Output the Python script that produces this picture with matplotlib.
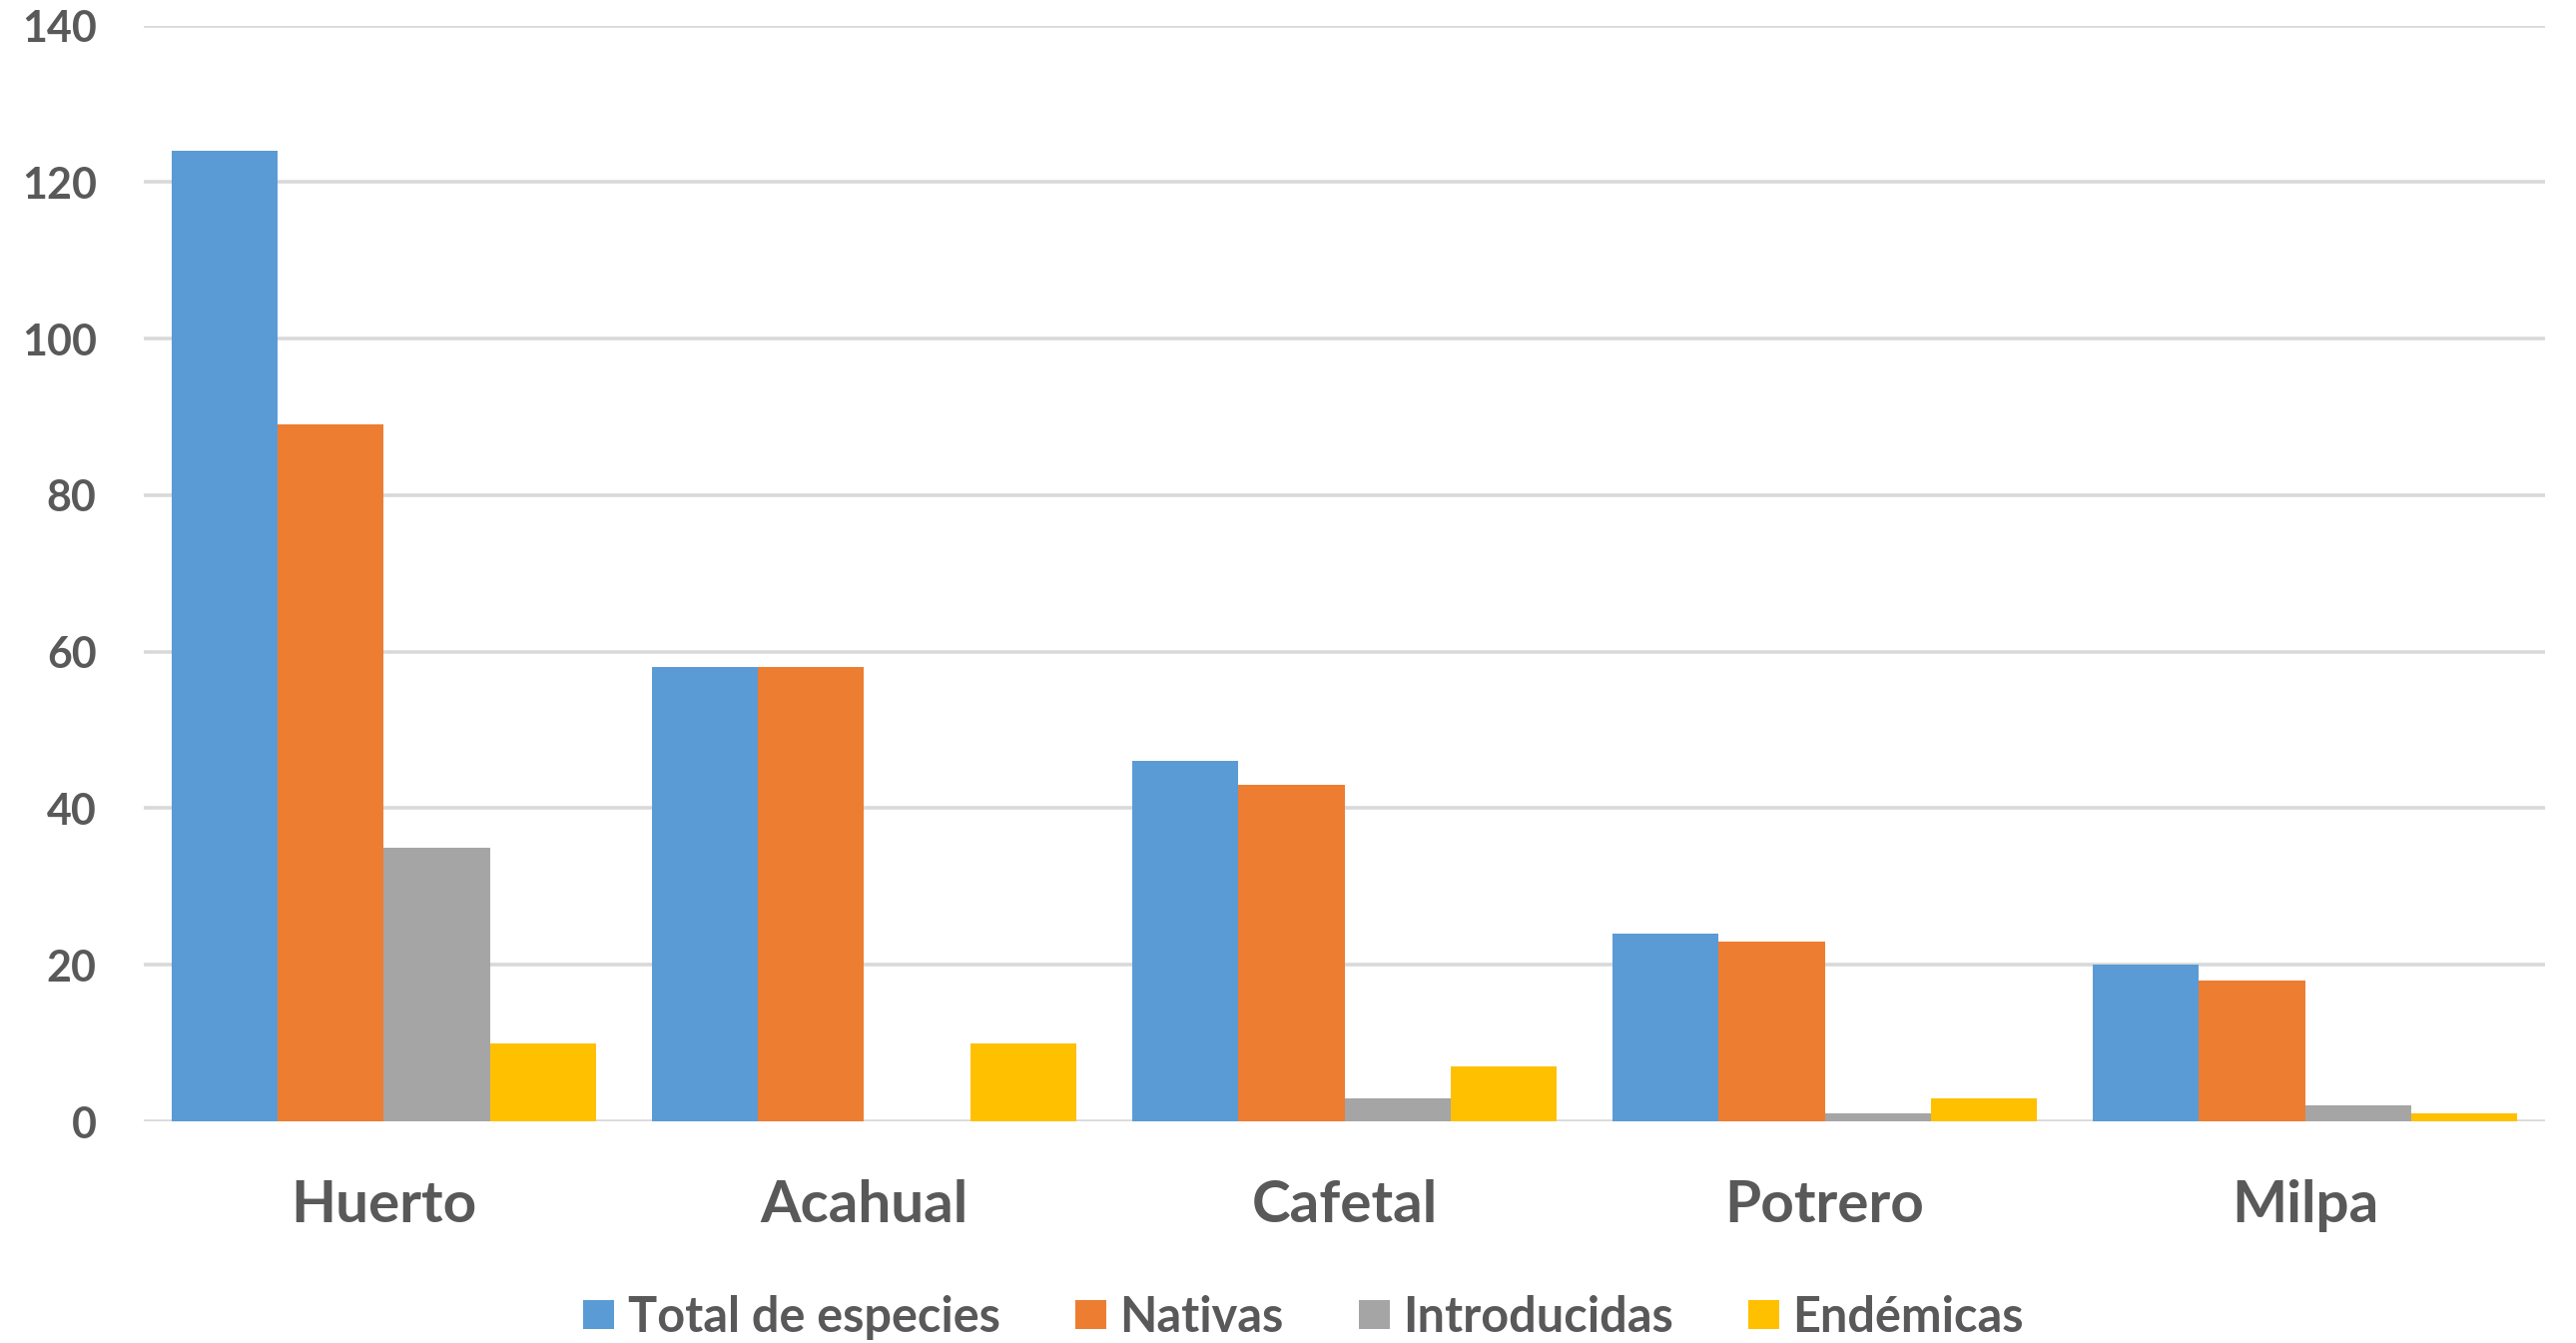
import numpy as np
import matplotlib
matplotlib.use("Agg")
import matplotlib.pyplot as plt
from matplotlib.patches import Patch

# species counts per land-use type
categories = ["Huerto", "Acahual", "Cafetal", "Potrero", "Milpa"]
total = [124, 58, 46, 24, 20]
nativas = [89, 58, 43, 23, 18]
introducidas = [35, 0, 3, 1, 2]
endemicas = [10, 10, 7, 3, 1]

series_names = ["Total de especies", "Nativas", "Introducidas", "Endémicas"]
colors = ["#5B9BD5", "#ED7D31", "#A5A5A5", "#FFC000"]
text_color = "#595959"

plt.rcParams["font.family"] = ["Lato", "DejaVu Sans"]

fig = plt.figure(figsize=(25.8, 13.45), dpi=100)
ax = fig.add_axes([0.0558, 0.165, 0.9322, 0.816])

x = np.arange(len(categories))
width = 0.221
for i, (vals, col) in enumerate(zip([total, nativas, introducidas, endemicas], colors)):
    ax.bar(x + (i - 1.5) * width, vals, width=width, color=col, zorder=3)

ax.set_xlim(-0.5, len(categories) - 0.5)
ax.set_ylim(0, 140)
ax.set_yticks(range(0, 141, 20))
ax.yaxis.grid(True, color="#D9D9D9", linewidth=2.6, zorder=0)
ax.set_axisbelow(True)

for s in ax.spines.values():
    s.set_visible(False)

ax.set_xticks(x)
ax.set_xticklabels(categories, fontsize=42, fontweight="bold", color=text_color)
ax.tick_params(axis="x", length=0, pad=42)
ax.tick_params(axis="y", length=0, pad=34, labelsize=31, labelcolor=text_color)
for lab in ax.get_yticklabels():
    lab.set_fontweight("bold")

handles = [Patch(facecolor=c, edgecolor="none") for c in colors]
leg = fig.legend(handles, series_names, loc="center", bbox_to_anchor=(0.506, 0.019),
                 ncol=4, frameon=False, fontsize=35, handlelength=0.64, handleheight=0.53,
                 handletextpad=0.27, columnspacing=1.55)
for t in leg.get_texts():
    t.set_color(text_color)
    t.set_fontweight("bold")

fig.savefig("out.png", dpi=100)
